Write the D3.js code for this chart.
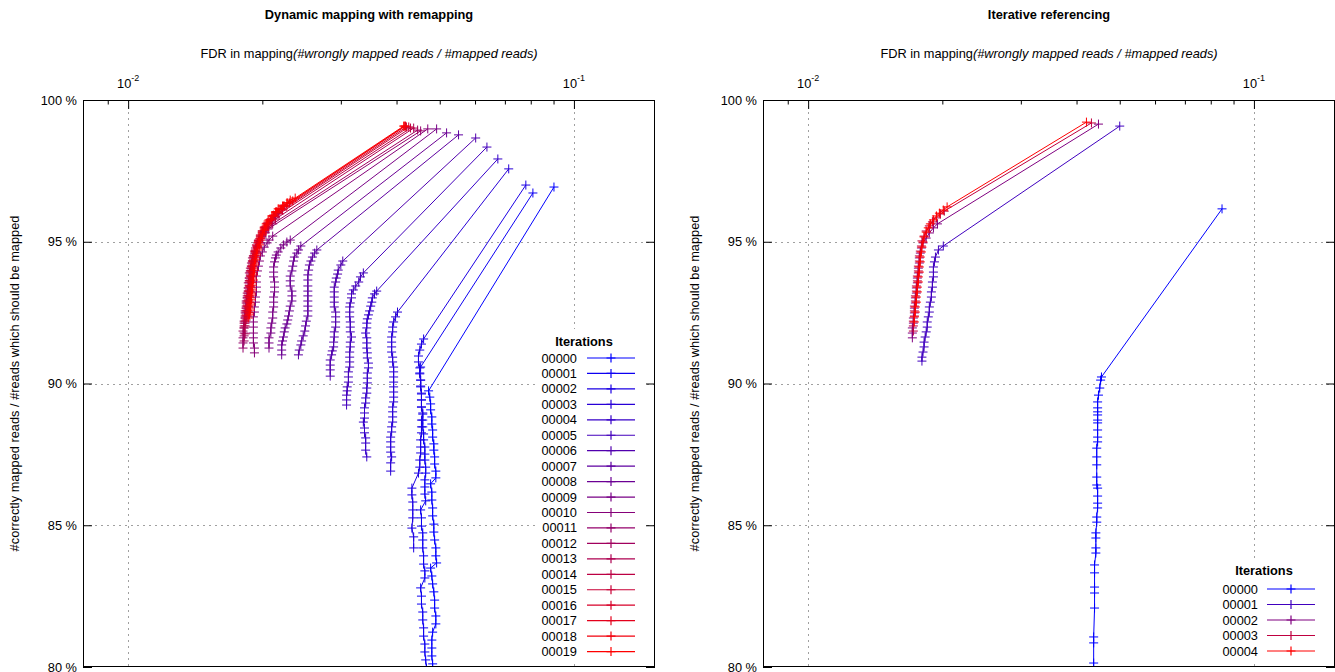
<!DOCTYPE html>
<html><head><meta charset="utf-8">
<script src="https://cdn.jsdelivr.net/npm/d3@7"></script>
<style>
body{margin:0;background:#fff;}
svg{display:block;font-family:"Liberation Sans",Arial,sans-serif;}
</style></head><body>
<svg id="chart" width="1335" height="672"></svg>
<script>
// ---------- data (FDR fraction, % correctly mapped) ----------
const yTicks = [80, 85, 90, 95, 100];
const xMajorTicks = [0.01, 0.1];
const xMajorExp = ["-2", "-1"];
const xMinorTicks = [0.009, 0.02, 0.03, 0.04, 0.05, 0.06, 0.07, 0.08, 0.09];
const xDomain = [0.00792, 0.152];
const yDomain = [80, 100];

const dynamicLabels = ["00000","00001","00002","00003","00004","00005","00006","00007","00008","00009","00010","00011","00012","00013","00014","00015","00016","00017","00018","00019"];
const iterativeLabels = ["00000","00001","00002","00003","00004"];

const d00 = [[0.0902,96.93],[0.0472,89.74],[0.0475,89.52],[0.0477,89.28],[0.0477,89.07],[0.0480,88.82],[0.0480,88.57],[0.0482,88.36],[0.0482,88.11],[0.0485,87.87],[0.0485,87.65],[0.0487,87.41],[0.0487,87.16],[0.0490,86.91],[0.0490,86.67],[0.0477,86.46],[0.0480,86.17],[0.0480,85.89],[0.0482,85.61],[0.0482,85.33],[0.0485,85.04],[0.0485,84.76],[0.0487,84.48],[0.0490,84.20],[0.0490,83.92],[0.0492,83.67],[0.0477,83.49],[0.0480,83.21],[0.0482,82.93],[0.0485,82.65],[0.0487,82.36],[0.0487,82.08],[0.0490,81.80],[0.0490,81.52],[0.0482,81.23],[0.0480,80.95],[0.0480,80.67],[0.0480,80.39],[0.0482,80.11],[0.0482,79.82],[0.0485,79.54]];
const d01 = [[0.0809,96.72],[0.0453,90.58],[0.0451,90.37],[0.0453,90.12],[0.0453,89.88],[0.0455,89.63],[0.0455,89.42],[0.0455,89.17],[0.0458,88.92],[0.0458,88.71],[0.0458,88.47],[0.0460,88.22],[0.0460,88.01],[0.0463,87.76],[0.0463,87.51],[0.0463,87.30],[0.0465,87.05],[0.0465,86.84],[0.0463,86.60],[0.0463,86.35],[0.0463,86.10],[0.0465,85.86],[0.0453,85.54],[0.0455,85.26],[0.0455,84.97],[0.0458,84.73],[0.0458,84.48],[0.0458,84.20],[0.0460,83.92],[0.0460,83.63],[0.0463,83.39],[0.0463,83.14],[0.0453,82.79],[0.0455,82.50],[0.0455,82.22],[0.0458,81.94],[0.0458,81.66],[0.0460,81.38],[0.0460,81.09],[0.0463,80.81],[0.0463,80.53],[0.0465,80.25],[0.0467,79.96],[0.0467,79.68]];
const d02 = [[0.0780,97.00],[0.0460,91.57],[0.0455,91.39],[0.0451,91.18],[0.0448,90.97],[0.0448,90.76],[0.0451,90.55],[0.0451,90.34],[0.0453,90.12],[0.0453,89.91],[0.0455,89.66],[0.0455,89.42],[0.0455,89.17],[0.0458,88.96],[0.0455,88.71],[0.0455,88.47],[0.0455,88.26],[0.0453,88.01],[0.0453,87.76],[0.0453,87.55],[0.0451,87.30],[0.0451,87.05],[0.0448,86.84],[0.0433,86.31],[0.0433,86.07],[0.0435,85.82],[0.0435,85.54],[0.0435,85.26],[0.0433,84.90],[0.0437,84.59],[0.0437,84.20]];
const d03 = [[0.0714,97.57],[0.0402,92.52],[0.0398,92.35],[0.0394,92.17],[0.0392,91.99],[0.0392,91.82],[0.0390,91.64],[0.0390,91.46],[0.0390,91.29],[0.0390,91.11],[0.0392,90.93],[0.0392,90.76],[0.0394,90.58],[0.0394,90.41],[0.0394,90.23],[0.0394,90.05],[0.0394,89.88],[0.0394,89.70],[0.0394,89.52],[0.0394,89.35],[0.0392,89.17],[0.0392,89.00],[0.0392,88.82],[0.0392,88.64],[0.0390,88.47],[0.0390,88.29],[0.0388,88.11],[0.0388,87.94],[0.0388,87.76],[0.0388,87.58],[0.0390,87.41],[0.0388,87.20],[0.0388,86.91]];
const d04 = [[0.0675,97.92],[0.0361,93.26],[0.0357,93.16],[0.0353,93.02],[0.0352,92.87],[0.0350,92.73],[0.0348,92.56],[0.0346,92.42],[0.0344,92.28],[0.0343,92.13],[0.0343,91.96],[0.0341,91.78],[0.0343,91.61],[0.0343,91.43],[0.0343,91.25],[0.0344,91.08],[0.0344,90.90],[0.0346,90.72],[0.0346,90.55],[0.0344,90.37],[0.0344,90.19],[0.0344,90.02],[0.0343,89.84],[0.0343,89.66],[0.0341,89.49],[0.0341,89.31],[0.0339,89.14],[0.0339,88.96],[0.0339,88.78],[0.0337,88.64],[0.0339,88.43],[0.0339,88.26],[0.0341,88.08],[0.0341,87.90],[0.0341,87.65],[0.0343,87.41]];
const d05 = [[0.0638,98.34],[0.0337,93.90],[0.0332,93.76],[0.0329,93.58],[0.0324,93.44],[0.0320,93.30],[0.0317,93.16],[0.0317,93.02],[0.0315,92.84],[0.0314,92.70],[0.0314,92.52],[0.0314,92.35],[0.0315,92.17],[0.0315,91.99],[0.0315,91.82],[0.0317,91.64],[0.0315,91.46],[0.0315,91.29],[0.0314,91.11],[0.0314,90.93],[0.0314,90.76],[0.0314,90.58],[0.0312,90.41],[0.0312,90.23],[0.0312,90.05],[0.0310,89.88],[0.0310,89.74],[0.0309,89.59],[0.0309,89.42],[0.0309,89.24]];
const d06 = [[0.0602,98.66],[0.0303,94.32],[0.0300,94.18],[0.0296,94.00],[0.0295,93.86],[0.0293,93.72],[0.0292,93.58],[0.0290,93.40],[0.0290,93.23],[0.0290,93.05],[0.0290,92.87],[0.0290,92.70],[0.0292,92.52],[0.0292,92.35],[0.0292,92.17],[0.0292,91.99],[0.0290,91.82],[0.0290,91.64],[0.0289,91.46],[0.0289,91.29],[0.0287,91.15],[0.0286,91.01],[0.0284,90.83],[0.0284,90.65],[0.0284,90.48],[0.0284,90.26]];
const d07 = [[0.0551,98.77],[0.0265,94.71],[0.0262,94.60],[0.0259,94.46],[0.0257,94.32],[0.0255,94.18],[0.0254,94.00],[0.0253,93.83],[0.0253,93.65],[0.0253,93.44],[0.0253,93.26],[0.0253,93.09],[0.0253,92.91],[0.0253,92.73],[0.0253,92.56],[0.0253,92.38],[0.0251,92.20],[0.0250,92.03],[0.0249,91.85],[0.0247,91.68],[0.0245,91.50],[0.0244,91.36],[0.0242,91.18],[0.0241,91.01]];
const d08 = [[0.0518,98.84],[0.0244,94.85],[0.0241,94.71],[0.0239,94.60],[0.0236,94.46],[0.0235,94.32],[0.0234,94.14],[0.0233,93.97],[0.0231,93.79],[0.0231,93.62],[0.0231,93.44],[0.0233,93.26],[0.0233,93.09],[0.0233,92.91],[0.0231,92.73],[0.0230,92.56],[0.0229,92.38],[0.0228,92.24],[0.0227,92.10],[0.0225,91.96],[0.0224,91.82],[0.0223,91.64],[0.0222,91.50],[0.0221,91.36],[0.0221,91.18],[0.0221,91.01]];
const d09 = [[0.0492,98.98],[0.0231,95.06],[0.0227,94.99],[0.0223,94.89],[0.0220,94.78],[0.0217,94.64],[0.0215,94.53],[0.0214,94.43],[0.0213,94.29],[0.0212,94.11],[0.0212,93.93],[0.0212,93.76],[0.0213,93.58],[0.0213,93.40],[0.0213,93.23],[0.0212,93.05],[0.0212,92.87],[0.0212,92.70],[0.0211,92.52],[0.0211,92.31],[0.0210,92.13],[0.0209,91.96],[0.0209,91.78],[0.0207,91.61],[0.0207,91.43],[0.0207,91.25]];
const d10 = [[0.0470,98.98],[0.0211,95.20],[0.0207,95.06],[0.0205,94.96],[0.0202,94.81],[0.0200,94.64],[0.0198,94.50],[0.0197,94.32],[0.0196,94.14],[0.0195,93.97],[0.0194,93.79],[0.0194,93.58],[0.0194,93.40],[0.0194,93.23],[0.0193,93.05],[0.0193,92.87],[0.0192,92.70],[0.0192,92.52],[0.0191,92.35],[0.0191,92.17],[0.0191,91.99],[0.0191,91.78],[0.0191,91.61],[0.0191,91.43],[0.0192,91.25],[0.0192,91.08]];
const d11 = [[0.0453,98.91],[0.0206,95.45],[0.0203,95.31],[0.0200,95.13],[0.0197,94.96],[0.0195,94.78],[0.0193,94.60],[0.0191,94.43],[0.0190,94.25],[0.0189,94.07],[0.0188,93.90],[0.0187,93.72],[0.0187,93.55],[0.0186,93.37],[0.0186,93.19],[0.0185,93.02],[0.0185,92.84],[0.0184,92.66],[0.0184,92.49],[0.0183,92.31],[0.0183,92.13],[0.0182,91.96],[0.0182,91.78],[0.0181,91.61],[0.0181,91.43],[0.0181,91.25]];
const d12 = [[0.0446,98.94],[0.0211,95.63],[0.0206,95.49],[0.0203,95.34],[0.0200,95.20],[0.0197,95.03],[0.0195,94.85],[0.0193,94.67],[0.0191,94.50],[0.0190,94.32],[0.0189,94.14],[0.0188,93.97],[0.0188,93.79],[0.0187,93.62],[0.0187,93.44],[0.0186,93.26],[0.0185,93.09],[0.0184,92.91],[0.0184,92.73],[0.0183,92.56],[0.0183,92.38],[0.0182,92.20],[0.0182,92.03],[0.0181,91.85],[0.0182,91.68],[0.0182,91.50]];
const d13 = [[0.0437,99.01],[0.0214,95.80],[0.0210,95.70],[0.0206,95.56],[0.0203,95.41],[0.0200,95.27],[0.0197,95.10],[0.0195,94.96],[0.0193,94.78],[0.0192,94.60],[0.0190,94.43],[0.0189,94.25],[0.0188,94.07],[0.0187,93.90],[0.0187,93.72],[0.0186,93.55],[0.0186,93.37],[0.0185,93.19],[0.0185,93.02],[0.0184,92.84],[0.0184,92.66],[0.0183,92.49],[0.0183,92.31],[0.0182,92.13],[0.0182,91.96],[0.0183,91.75]];
const d14 = [[0.0430,99.01],[0.0218,95.98],[0.0214,95.87],[0.0210,95.77],[0.0206,95.63],[0.0203,95.49],[0.0200,95.34],[0.0198,95.20],[0.0196,95.03],[0.0194,94.85],[0.0192,94.67],[0.0191,94.50],[0.0190,94.32],[0.0189,94.14],[0.0188,93.97],[0.0188,93.79],[0.0187,93.62],[0.0187,93.44],[0.0186,93.26],[0.0186,93.09],[0.0185,92.91],[0.0185,92.73],[0.0184,92.56],[0.0184,92.38],[0.0183,92.20],[0.0183,92.03]];
const d15 = [[0.0426,99.05],[0.0222,96.12],[0.0217,96.01],[0.0213,95.91],[0.0210,95.80],[0.0206,95.66],[0.0203,95.52],[0.0200,95.38],[0.0198,95.24],[0.0196,95.06],[0.0194,94.89],[0.0193,94.71],[0.0192,94.53],[0.0191,94.36],[0.0190,94.18],[0.0189,94.00],[0.0188,93.83],[0.0188,93.65],[0.0187,93.47],[0.0187,93.30],[0.0186,93.12],[0.0186,92.95],[0.0185,92.77],[0.0185,92.59],[0.0184,92.42],[0.0184,92.24]];
const d16 = [[0.0421,99.05],[0.0227,96.26],[0.0221,96.16],[0.0216,96.05],[0.0212,95.94],[0.0209,95.80],[0.0205,95.66],[0.0202,95.52],[0.0200,95.38],[0.0198,95.20],[0.0196,95.03],[0.0195,94.85],[0.0193,94.67],[0.0192,94.50],[0.0191,94.32],[0.0190,94.14],[0.0189,93.97],[0.0189,93.79],[0.0188,93.62],[0.0188,93.44],[0.0187,93.26],[0.0187,93.09],[0.0186,92.91],[0.0186,92.73],[0.0185,92.56],[0.0185,92.38]];
const d17 = [[0.0419,99.08],[0.0230,96.37],[0.0224,96.26],[0.0220,96.16],[0.0215,96.05],[0.0212,95.91],[0.0209,95.77],[0.0205,95.63],[0.0202,95.49],[0.0200,95.31],[0.0198,95.13],[0.0196,94.99],[0.0195,94.81],[0.0193,94.64],[0.0192,94.46],[0.0191,94.29],[0.0190,94.11],[0.0190,93.93],[0.0189,93.76],[0.0189,93.58],[0.0188,93.40],[0.0188,93.23],[0.0187,93.05],[0.0187,92.87],[0.0186,92.70],[0.0186,92.52]];
const d18 = [[0.0417,99.08],[0.0234,96.44],[0.0228,96.37],[0.0223,96.26],[0.0218,96.16],[0.0215,96.05],[0.0211,95.91],[0.0207,95.77],[0.0204,95.63],[0.0202,95.45],[0.0200,95.31],[0.0198,95.13],[0.0196,94.96],[0.0195,94.78],[0.0194,94.60],[0.0193,94.43],[0.0192,94.25],[0.0191,94.07],[0.0191,93.90],[0.0190,93.72],[0.0190,93.55],[0.0189,93.37],[0.0189,93.19],[0.0188,93.02],[0.0188,92.84],[0.0187,92.66],[0.0187,92.49],[0.0186,92.31]];
const d19 = [[0.0415,99.08],[0.0237,96.54],[0.0231,96.47],[0.0227,96.37],[0.0222,96.26],[0.0217,96.16],[0.0214,96.05],[0.0210,95.91],[0.0206,95.73],[0.0204,95.56],[0.0202,95.41],[0.0200,95.24],[0.0198,95.06],[0.0197,94.89],[0.0195,94.71],[0.0194,94.53],[0.0193,94.36],[0.0192,94.18],[0.0192,94.00],[0.0191,93.83],[0.0191,93.65],[0.0190,93.47],[0.0190,93.30],[0.0189,93.12],[0.0189,92.95],[0.0188,92.77],[0.0188,92.59],[0.0187,92.42]];

const r00 = [[0.0848,96.16],[0.0455,90.23],[0.0453,90.12],[0.0451,89.84],[0.0448,89.59],[0.0446,89.35],[0.0446,89.14],[0.0446,89.00],[0.0446,88.89],[0.0446,88.71],[0.0446,88.61],[0.0446,88.36],[0.0446,88.11],[0.0446,87.94],[0.0444,87.72],[0.0444,87.41],[0.0444,87.13],[0.0444,86.70],[0.0444,86.42],[0.0446,86.31],[0.0446,86.03],[0.0446,85.78],[0.0446,85.61],[0.0444,85.29],[0.0444,85.11],[0.0442,84.73],[0.0442,84.55],[0.0442,84.20],[0.0442,84.02],[0.0439,83.60],[0.0439,83.32],[0.0439,82.82],[0.0439,82.61],[0.0439,82.08],[0.0437,81.06],[0.0437,80.85],[0.0437,80.14],[0.0437,79.72]];
const r01 = [[0.0500,99.08],[0.0201,94.85],[0.0196,94.71],[0.0193,94.46],[0.0192,94.29],[0.0191,94.11],[0.0191,93.93],[0.0191,93.76],[0.0190,93.58],[0.0190,93.40],[0.0189,93.23],[0.0189,93.05],[0.0188,92.87],[0.0187,92.70],[0.0187,92.52],[0.0186,92.35],[0.0185,92.17],[0.0185,91.99],[0.0184,91.82],[0.0183,91.64],[0.0182,91.46],[0.0182,91.29],[0.0181,91.11],[0.0180,90.93],[0.0180,90.79]];
const r02 = [[0.0448,99.15],[0.0195,95.63],[0.0191,95.49],[0.0187,95.31],[0.0184,95.13],[0.0181,94.96],[0.01795,94.78],[0.01785,94.60],[0.01776,94.43],[0.01776,94.25],[0.01767,94.07],[0.01767,93.90],[0.01758,93.72],[0.01758,93.55],[0.01749,93.37],[0.01749,93.19],[0.01740,93.02],[0.01740,92.84],[0.01731,92.66],[0.01731,92.49],[0.01722,92.31],[0.01722,92.13],[0.01713,91.96],[0.01713,91.78],[0.01713,91.61]];
const r03 = [[0.0432,99.19],[0.0202,96.08],[0.0198,95.98],[0.0194,95.84],[0.0190,95.70],[0.0187,95.56],[0.0184,95.38],[0.0182,95.20],[0.0180,95.03],[0.01795,94.85],[0.01785,94.67],[0.01776,94.50],[0.01776,94.32],[0.01767,94.14],[0.01767,93.97],[0.01758,93.79],[0.01758,93.62],[0.01749,93.44],[0.01749,93.26],[0.01740,93.09],[0.01740,92.91],[0.01731,92.73],[0.01731,92.56],[0.01731,92.38],[0.01722,92.20],[0.01722,92.03],[0.01722,91.85]];
const r04 = [[0.0421,99.22],[0.0205,96.23],[0.0201,96.12],[0.0197,96.01],[0.0194,95.91],[0.0191,95.77],[0.0188,95.63],[0.0186,95.49],[0.0184,95.34],[0.0182,95.17],[0.0181,94.99],[0.0180,94.81],[0.01795,94.64],[0.01785,94.46],[0.01785,94.29],[0.01776,94.11],[0.01776,93.93],[0.01767,93.76],[0.01767,93.58],[0.01758,93.40],[0.01758,93.23],[0.01749,93.05],[0.01749,92.87],[0.01740,92.70],[0.01740,92.52],[0.01731,92.35],[0.01731,92.17]];

const dynamicSeries = [d00,d01,d02,d03,d04,d05,d06,d07,d08,d09,d10,d11,d12,d13,d14,d15,d16,d17,d18,d19];
const iterativeSeries = [r00,r01,r02,r03,r04];

// ---------- drawing ----------
const svg = d3.select("#chart");
const FS = 12.8;
const plotTop = 100, plotBottom = 667;

function drawPanel(cfg) {
  const x = d3.scaleLog().domain(xDomain).range([cfg.x0, cfg.x1]);
  const y = d3.scaleLinear().domain(yDomain).range([plotBottom, plotTop]);
  const g = svg.append("g");
  const cx = (cfg.x0 + cfg.x1) / 2;

  // titles
  g.append("text").attr("x", cx).attr("y", 19).attr("text-anchor", "middle")
    .attr("font-size", FS).attr("font-weight", "bold").text(cfg.title);
  const sub = g.append("text").attr("x", cx).attr("y", 57.5).attr("text-anchor", "middle").attr("font-size", FS);
  sub.append("tspan").text("FDR in mapping");
  sub.append("tspan").attr("font-style", "italic").text("(#wrongly mapped reads / #mapped reads)");
  g.append("text").attr("transform", `translate(${cfg.x0 - 64},${(plotTop + plotBottom) / 2}) rotate(-90)`)
    .attr("text-anchor", "middle").attr("font-size", FS)
    .text("#correctly mapped reads / #reads which should be mapped");

  // grid
  const grid = g.append("g").attr("stroke", "#a0a0a0").attr("stroke-width", 1).attr("stroke-dasharray", "2,4");
  grid.selectAll("line.v").data(xMajorTicks).join("line")
    .attr("x1", d => Math.round(x(d)) + 0.5).attr("x2", d => Math.round(x(d)) + 0.5)
    .attr("y1", plotTop).attr("y2", plotBottom);
  grid.selectAll("line.h").data(yTicks.filter(t => t > yDomain[0] && t < yDomain[1])).join("line")
    .attr("y1", d => Math.round(y(d)) + 0.5).attr("y2", d => Math.round(y(d)) + 0.5)
    .attr("x1", cfg.x0).attr("x2", cfg.x1);

  // axes (ticks inward)
  const topAx = g.append("g").attr("transform", `translate(0,${plotTop})`)
    .call(d3.axisTop(x).tickValues(xMajorTicks).tickSize(-9).tickPadding(12).tickFormat(""));
  topAx.selectAll(".tick text").remove();
  xMajorTicks.forEach((t, i) => {
    const tx = g.append("text").attr("x", x(t)).attr("y", 88).attr("text-anchor", "middle").attr("font-size", FS);
    tx.append("tspan").text("10");
    tx.append("tspan").attr("dy", -7).attr("font-size", 9).text(xMajorExp[i]);
  });
  g.append("g").attr("transform", `translate(0,${plotTop})`)
    .call(d3.axisTop(x).tickValues(xMinorTicks).tickSize(-4.5).tickFormat(""));
  const yl = g.append("g").attr("transform", `translate(${cfg.x0},0)`)
    .call(d3.axisLeft(y).tickValues(yTicks).tickSize(-9).tickPadding(6).tickFormat(d => d + " %"));
  yl.selectAll("text").attr("font-size", FS).attr("font-family", "Liberation Sans, Arial, sans-serif").attr("fill", "#000");
  g.append("g").attr("transform", `translate(${cfg.x1},0)`)
    .call(d3.axisRight(y).tickValues(yTicks).tickSize(-9).tickFormat(""));
  g.selectAll(".domain").remove();
  g.selectAll(".tick line").attr("stroke", "#000");

  // clip
  const clipId = "clip" + cfg.id;
  svg.append("clipPath").attr("id", clipId).append("rect")
    .attr("x", cfg.x0).attr("y", plotTop).attr("width", cfg.x1 - cfg.x0).attr("height", plotBottom - plotTop);

  const n = cfg.series.length;
  const color = i => d3.rgb(Math.round(255 * i / (n - 1)), 0, Math.round(255 * (n - 1 - i) / (n - 1))).toString();
  const line = d3.line().x(d => x(d[0])).y(d => y(d[1]));
  const plus = "M-4.5,0H4.5M0,-4.5V4.5";
  const data = g.append("g").attr("clip-path", `url(#${clipId})`);
  cfg.series.forEach((s, i) => {
    const sg = data.append("g");
    sg.append("path").attr("d", line(s)).attr("fill", "none").attr("stroke", color(i)).attr("stroke-width", 1);
    sg.selectAll("path.pt").data(s).join("path").attr("class", "pt")
      .attr("transform", d => `translate(${x(d[0])},${y(d[1])})`)
      .attr("d", plus).attr("stroke", color(i)).attr("stroke-width", 1).attr("fill", "none");
  });

  // legend (opaque)
  const L = cfg.legend;
  g.append("rect").attr("x", L.bx0).attr("y", L.by0).attr("width", L.bx1 - L.bx0).attr("height", L.by1 - L.by0).attr("fill", "#fff");
  g.append("text").attr("x", L.tx).attr("y", L.ty + 4.5).attr("text-anchor", "middle")
    .attr("font-size", FS).attr("font-weight", "bold").text("Iterations");
  cfg.labels.forEach((lab, i) => {
    const yy = L.y0 + i * L.dy;
    g.append("text").attr("x", L.labelEnd).attr("y", yy + 4.5).attr("text-anchor", "end").attr("font-size", FS).text(lab);
    g.append("line").attr("x1", L.lx0).attr("x2", L.lx1).attr("y1", yy).attr("y2", yy)
      .attr("stroke", color(i)).attr("stroke-width", 1.2);
    g.append("path").attr("transform", `translate(${(L.lx0 + L.lx1) / 2},${yy})`).attr("d", plus)
      .attr("stroke", color(i)).attr("stroke-width", 1.2).attr("fill", "none");
  });

  // border
  g.append("rect").attr("x", cfg.x0 + 0.5).attr("y", plotTop + 0.5).attr("width", cfg.x1 - cfg.x0 - 1)
    .attr("height", plotBottom - plotTop - 1).attr("fill", "none").attr("stroke", "#000").attr("stroke-width", 1);
}

drawPanel({
  id: "L", x0: 83, x1: 655, title: "Dynamic mapping with remapping",
  series: dynamicSeries, labels: dynamicLabels,
  legend: { bx0: 535, bx1: 645, by0: 329, by1: 662, tx: 584, ty: 341, y0: 358, dy: 15.45, labelEnd: 577, lx0: 587, lx1: 635 }
});
drawPanel({
  id: "R", x0: 763, x1: 1335, title: "Iterative referencing",
  series: iterativeSeries, labels: iterativeLabels,
  legend: { bx0: 1215, bx1: 1325, by0: 558, by1: 662, tx: 1264, ty: 570, y0: 589, dy: 15.5, labelEnd: 1258, lx0: 1267, lx1: 1315 }
});
</script>
</body></html>
